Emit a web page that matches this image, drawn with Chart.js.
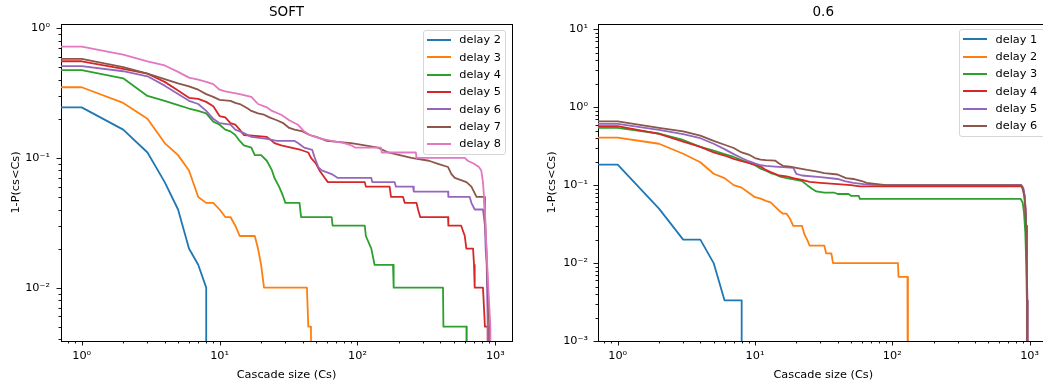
<!DOCTYPE html>
<html lang="en">
<head>
<meta charset="UTF-8">
<title>Cascade size distributions</title>
<script src="https://cdn.jsdelivr.net/npm/chart.js@4.4.1/dist/chart.umd.min.js"></script>
<style>
    body { margin: 0; background: #fff; overflow: hidden; width: 1043px; height: 388px; position: relative; }
    canvas { position: absolute; top: 0; }
    .legend { position: absolute; box-sizing: border-box; border: 1px solid #d6d6d6; border-radius: 3px;
              background: rgba(255,255,255,0.8); padding-top: 0.4px; font: 11.3px "DejaVu Sans"; color: #000; }
    .row { height: 17.33px; display: flex; align-items: center; }
    .handle { display: inline-block; width: 24px; height: 2px; margin-left: 3px; }
    .txt { margin-left: 8.6px; line-height: 1; white-space: nowrap; }
</style>
</head>
<body>
<canvas id="soft" width="520" height="388" style="left:0"></canvas>
<canvas id="p06" width="530" height="388" style="left:520px"></canvas>
<div id="legSoft" class="legend"></div>
<div id="legP06" class="legend"></div>

<script>
    // [cascade size, 1-P(cs<Cs)]; 0 means "off the axis"
    const soft2 = [[0,0.245],[1,0.245],[2,0.165],[3,0.11],[4,0.065],[5,0.04],[6,0.02],[7,0.015],[8,0.01],[8,0]];
    const soft3 = [[0,0.35],[1,0.35],[2,0.265],[3,0.2],[4,0.13],[5,0.105],[6,0.08],[7,0.05],[8,0.045],[9,0.045],
        [10,0.04],[11,0.035],[12,0.035],[13,0.03],[14,0.025],[18,0.025],[19,0.02],[20,0.015],[21,0.01],[43,0.01],
        [44,0.005],[46,0.005],[47,0]];
    const soft4 = [[0,0.475],[1,0.475],[2,0.41],[3,0.3],[4,0.275],[5,0.255],[6,0.24],[7,0.23],[8,0.22],[9,0.19],
        [10,0.18],[11,0.165],[12,0.16],[13,0.15],[14,0.135],[15,0.125],[17,0.12],[18,0.105],[20,0.105],[22,0.095],
        [24,0.08],[25,0.07],[27,0.06],[28,0.055],[29,0.05],[30,0.045],[38,0.045],[39,0.035],[65,0.035],[66,0.03],
        [113,0.03],[115,0.025],[126,0.02],[133,0.015],[181,0.015],[183,0.01],[417,0.01],[420,0.005],[617,0.005],[620,0]];
    const soft5 = [[0,0.555],[1,0.555],[2,0.485],[3,0.445],[4,0.385],[5,0.33],[6,0.29],[7,0.285],[8,0.27],[9,0.25],
        [10,0.21],[11,0.205],[12,0.185],[13,0.18],[14,0.165],[15,0.15],[22,0.145],[23,0.14],[25,0.13],[28,0.125],
        [33,0.12],[39,0.115],[44,0.11],[46,0.1],[50,0.09],[53,0.08],[58,0.07],[61,0.065],[113,0.065],[115,0.06],
        [171,0.06],[175,0.05],[214,0.05],[220,0.045],[268,0.045],[275,0.04],[285,0.035],[454,0.035],[456,0.03],
        [565,0.03],[600,0.025],[616,0.02],[689,0.02],[700,0.015],[708,0.01],[813,0.01],[840,0.005],[880,0.005],[890,0]];
    const soft6 = [[0,0.51],[1,0.51],[2,0.465],[3,0.425],[4,0.36],[5,0.31],[6,0.275],[7,0.26],[8,0.23],[9,0.2],
        [10,0.185],[12,0.18],[13,0.165],[14,0.16],[15,0.155],[17,0.145],[22,0.14],[26,0.135],[35,0.135],[37,0.13],
        [41,0.12],[47,0.115],[49,0.1],[52,0.085],[55,0.08],[65,0.075],[72,0.07],[126,0.07],[128,0.065],[186,0.065],
        [190,0.06],[253,0.06],[256,0.055],[454,0.055],[456,0.05],[651,0.05],[670,0.045],[708,0.04],[813,0.04],
        [840,0.03],[850,0.02],[865,0.015],[880,0.005],[895,0]];
    const soft7 = [[0,0.58],[1,0.58],[2,0.5],[3,0.445],[4,0.405],[5,0.375],[6,0.355],[7,0.335],[8,0.31],[9,0.295],
        [10,0.28],[12,0.275],[13,0.265],[14,0.26],[15,0.25],[16,0.24],[17,0.23],[19,0.22],[21,0.215],[23,0.205],
        [26,0.195],[29,0.185],[32,0.17],[35,0.165],[40,0.16],[45,0.15],[50,0.145],[55,0.14],[60,0.135],[90,0.13],
        [113,0.125],[141,0.12],[167,0.11],[246,0.1],[330,0.095],[384,0.09],[454,0.085],[480,0.075],[508,0.07],
        [617,0.065],[670,0.06],[730,0.05],[830,0.05],[840,0.035],[861,0.02],[880,0.01],[905,0.005],[925,0]];
    const soft8 = [[0,0.72],[1,0.72],[2,0.625],[3,0.555],[4,0.515],[5,0.46],[6,0.415],[7,0.4],[8,0.385],[9,0.37],
        [10,0.335],[11,0.325],[12,0.32],[14,0.31],[15,0.305],[17,0.295],[19,0.26],[22,0.245],[24,0.23],[28,0.215],
        [32,0.195],[37,0.18],[41,0.16],[45,0.15],[50,0.145],[55,0.14],[65,0.135],[80,0.13],[90,0.125],[96,0.12],
        [148,0.12],[150,0.11],[265,0.11],[268,0.1],[600,0.1],[630,0.095],[700,0.09],[760,0.085],[790,0.08],
        [813,0.065],[840,0.04],[861,0.02],[889,0.01],[920,0.005],[935,0]];

    const p06d1 = [[0,0.183],[1,0.183],[2,0.05],[3,0.02],[4,0.02],[5,0.01],[6,0.00333],[8,0.00333],[8,0]];
    const p06d2 = [[0,0.407],[1,0.407],[2,0.34],[3,0.253],[4,0.197],[5,0.14],[6,0.123],[7,0.1],[8,0.093],[9,0.08],
        [10,0.07],[11,0.067],[12,0.063],[13,0.06],[14,0.053],[15,0.047],[16,0.043],[17,0.043],[18,0.037],[19,0.03],
        [22,0.03],[23,0.023],[24,0.02],[25,0.0167],[32,0.0167],[33,0.0133],[36,0.0133],[37,0.01],[110,0.01],
        [111,0.00667],[129,0.00667],[130,0]];
    const p06d3 = [[0,0.543],[1,0.543],[2,0.46],[3,0.38],[4,0.31],[5,0.277],[6,0.25],[7,0.23],[8,0.21],[9,0.193],
        [10,0.18],[11,0.163],[12,0.153],[13,0.143],[14,0.137],[15,0.13],[17,0.123],[20,0.117],[22,0.113],[24,0.1],
        [26,0.09],[28,0.083],[32,0.08],[38,0.08],[40,0.077],[48,0.077],[50,0.073],[57,0.073],[58,0.0667],[860,0.0667],
        [890,0.06],[910,0.045],[930,0.025],[945,0.01],[955,0.00333],[958,0]];
    const p06d4 = [[0,0.573],[1,0.573],[2,0.455],[3,0.363],[4,0.31],[5,0.263],[6,0.24],[7,0.217],[8,0.203],[9,0.193],
        [10,0.183],[11,0.173],[12,0.157],[13,0.147],[14,0.14],[15,0.133],[17,0.13],[19,0.123],[22,0.117],[25,0.11],
        [30,0.107],[40,0.103],[50,0.1],[58,0.0967],[870,0.0967],[900,0.088],[920,0.07],[935,0.048],[945,0.03],
        [955,0.01],[962,0.00333],[965,0]];
    const p06d5 = [[0,0.613],[1,0.613],[2,0.513],[3,0.453],[4,0.4],[5,0.34],[6,0.29],[7,0.25],[8,0.223],[9,0.203],
        [10,0.19],[11,0.18],[12,0.177],[14,0.173],[16,0.17],[19,0.167],[20,0.14],[22,0.133],[30,0.127],[40,0.12],
        [45,0.113],[52,0.107],[62,0.103],[75,0.1],[875,0.1],[900,0.092],[920,0.075],[935,0.05],[945,0.03],
        [955,0.01],[962,0.00333],[966,0]];
    const p06d6 = [[0,0.66],[1,0.66],[2,0.543],[3,0.49],[4,0.433],[5,0.37],[6,0.33],[7,0.3],[8,0.263],[9,0.247],
        [10,0.223],[11,0.213],[12,0.21],[14,0.207],[15,0.19],[16,0.177],[18,0.173],[20,0.167],[24,0.157],[28,0.15],
        [32,0.143],[40,0.137],[46,0.123],[52,0.12],[60,0.113],[65,0.107],[90,0.1],[865,0.1],[890,0.09],[915,0.072],
        [930,0.05],[942,0.03],[952,0.01],[960,0.00333],[964,0]];

    const softSeries = [soft2, soft3, soft4, soft5, soft6, soft7, soft8];
    const softLabels = ['delay 2', 'delay 3', 'delay 4', 'delay 5', 'delay 6', 'delay 7', 'delay 8'];
    const p06Series = [p06d1, p06d2, p06d3, p06d4, p06d5, p06d6];
    const p06Labels = ['delay 1', 'delay 2', 'delay 3', 'delay 4', 'delay 5', 'delay 6'];
    const colors = ['#1f77b4', '#ff7f0e', '#2ca02c', '#d62728', '#9467bd', '#8c564b', '#e377c2'];

    const xTickExps = [0, 1, 2, 3];
    const xTickLabels = ['10⁰', '10¹', '10²', '10³'];
    const softYTickExps = [-2, -1, 0];
    const softYTickLabels = ['10⁻²', '10⁻¹', '10⁰'];
    const p06YTickExps = [-3, -2, -1, 0, 1];
    const p06YTickLabels = ['10⁻³', '10⁻²', '10⁻¹', '10⁰', '10¹'];

    const FLOOR = 1e-6; // zero can't sit on a log axis, push it off the edge instead
    const font = {family: 'DejaVu Sans', size: 11.3};

    function toPoints(pairs) {
        return pairs.map(([x, y]) => ({x: x > 0 ? x : FLOOR, y: y > 0 ? y : FLOOR}));
    }

    // 1..9 x 10^e between min and max, decade marks flagged as major
    function logTicks(min, max) {
        const out = [];
        for (let e = Math.floor(Math.log10(min)); e <= Math.ceil(Math.log10(max)); e++) {
            for (let m = 1; m <= 9; m++) {
                const v = m * Math.pow(10, e);
                if (v >= min * 0.999999 && v <= max * 1.000001) out.push({value: v, major: m === 1});
            }
        }
        return out;
    }

    function labeller(exps, labels) {
        return function (value, index, ticks) {
            if (!ticks[index].major) return '';
            const i = exps.indexOf(Math.round(Math.log10(value)));
            return i >= 0 ? labels[i] : '';
        };
    }

    const tickMarks = {
        id: 'tickMarks',
        afterDraw(chart) {
            const ctx = chart.ctx, area = chart.chartArea;
            ctx.save();
            ctx.strokeStyle = '#000';
            ctx.lineWidth = 0.9;
            for (const id of ['x', 'y']) {
                const s = chart.scales[id];
                for (const t of s.ticks) {
                    const len = t.major ? 4.5 : 2.5;
                    const p = Math.round(s.getPixelForValue(t.value)) + 0.5;
                    ctx.beginPath();
                    if (id === 'x') { ctx.moveTo(p, area.bottom); ctx.lineTo(p, area.bottom + len); }
                    else { ctx.moveTo(area.left, p); ctx.lineTo(area.left - len, p); }
                    ctx.stroke();
                }
            }
            ctx.restore();
        }
    };

    const border = {display: true, color: '#000', width: 1};
    const noGrid = {display: false, drawTicks: false};

    function makePanel(id, p) {
        const datasets = p.series.map((s, i) => ({
            label: p.labels[i],
            data: toPoints(s),
            borderColor: colors[i],
            borderWidth: 1.8,
            borderJoinStyle: 'round',
            pointRadius: 0,
            tension: 0,
            fill: false,
            clip: 0,
            order: p.series.length - i
        }));
        return new Chart(document.getElementById(id), {
            type: 'line',
            data: {datasets},
            options: {
                responsive: false,
                animation: false,
                devicePixelRatio: 1,
                events: [],
                layout: {padding: 0},
                plugins: {legend: {display: false}, title: {display: false}, tooltip: {enabled: false}},
                scales: {
                    x: {
                        type: 'logarithmic', position: 'bottom', min: p.xMin, max: p.xMax, bounds: 'data',
                        afterBuildTicks: s => { s.ticks = logTicks(p.xMin, p.xMax); },
                        afterFit: s => { s.height = 47; },
                        grid: noGrid, border,
                        ticks: {autoSkip: false, maxRotation: 0, minRotation: 0, padding: 8, font, color: '#000',
                                callback: labeller(xTickExps, xTickLabels)},
                        title: {display: true, text: 'Cascade size (Cs)', font, color: '#000', padding: {top: 0, bottom: 6.2}}
                    },
                    xTop: {
                        type: 'logarithmic', position: 'top', min: p.xMin, max: p.xMax, bounds: 'data',
                        afterFit: s => { s.height = 24; },
                        grid: noGrid, border, ticks: {display: false},
                        title: {display: true, text: p.title, font: {family: 'DejaVu Sans', size: 13.5}, color: '#000',
                                padding: {top: 4.4, bottom: 0}}
                    },
                    y: {
                        type: 'logarithmic', position: 'left', min: p.yMin, max: p.yMax, bounds: 'data',
                        afterBuildTicks: s => { s.ticks = logTicks(p.yMin, p.yMax); },
                        afterFit: s => { s.width = p.yWidth; },
                        grid: noGrid, border,
                        ticks: {autoSkip: false, padding: p.yPad, font, color: '#000',
                                callback: labeller(p.yExps, p.yLabels)},
                        title: {display: true, text: '1-P(cs<Cs)', font, color: '#000', padding: {top: p.yTitlePad, bottom: 0}}
                    },
                    yRight: {
                        type: 'logarithmic', position: 'right', min: p.yMin, max: p.yMax, bounds: 'data',
                        afterFit: s => { s.width = p.rightWidth; },
                        grid: noGrid, border, ticks: {display: false}
                    }
                }
            },
            plugins: [tickMarks]
        });
    }

    function drawLegend(id, labels, left, top, width, height) {
        const box = document.getElementById(id);
        Object.assign(box.style, {left: left + 'px', top: top + 'px', width: width + 'px', height: height + 'px'});
        labels.forEach((lab, i) => {
            const row = document.createElement('div');
            row.className = 'row';
            const line = document.createElement('span');
            line.className = 'handle';
            line.style.background = colors[i];
            const txt = document.createElement('span');
            txt.className = 'txt';
            txt.textContent = lab;
            row.append(line, txt);
            box.appendChild(row);
        });
    }

    makePanel('soft', {
        series: softSeries, labels: softLabels, title: 'SOFT',
        xMin: 0.708, xMax: 1320, yMin: 0.00388, yMax: 1.075,
        yExps: softYTickExps, yLabels: softYTickLabels,
        yWidth: 61, rightWidth: 8, yPad: 11, yTitlePad: 8.8
    });
    makePanel('p06', {
        series: p06Series, labels: p06Labels, title: '0.6',
        xMin: 0.719, xMax: 1373, yMin: 0.001, yMax: 11.7,
        yExps: p06YTickExps, yLabels: p06YTickLabels,
        yWidth: 78, rightWidth: 1.5, yPad: 10, yTitlePad: 25.2
    });

    drawLegend('legSoft', softLabels, 422.7, 30, 83.5, 125);
    drawLegend('legP06', p06Labels, 959, 29.3, 86, 108);
</script>
</body>
</html>
